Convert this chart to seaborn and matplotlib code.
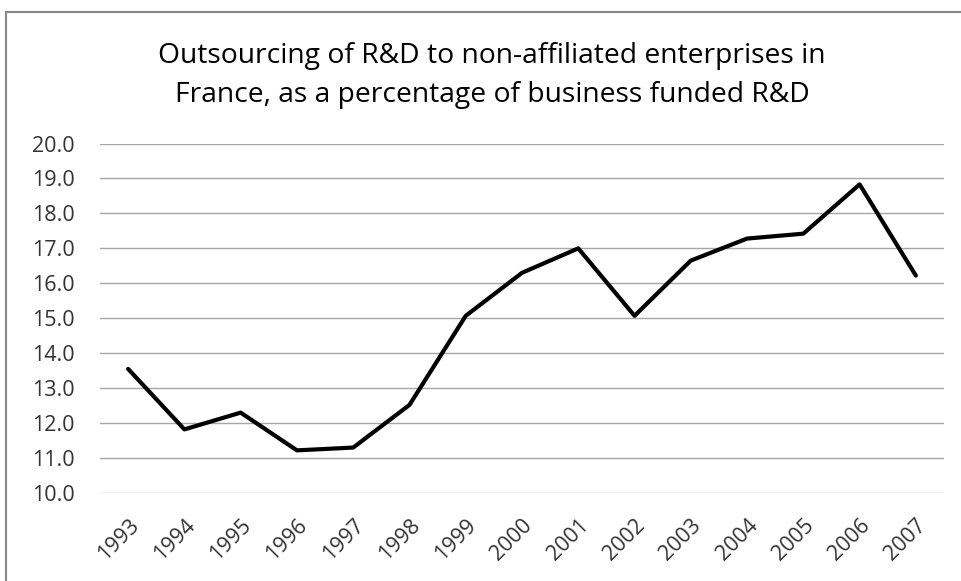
import matplotlib
matplotlib.use("Agg")
import matplotlib.pyplot as plt
import seaborn as sns
import pandas as pd
from matplotlib.patches import Rectangle

years = ["1993", "1994", "1995", "1996", "1997", "1998", "1999", "2000",
         "2001", "2002", "2003", "2004", "2005", "2006", "2007"]
share = [13.55, 11.82, 12.3, 11.22, 11.3, 12.52, 15.07, 16.3,
         17.0, 15.07, 16.65, 17.28, 17.42, 18.83, 16.22]
y_ticks = [10.0, 11.0, 12.0, 13.0, 14.0, 15.0, 16.0, 17.0, 18.0, 19.0, 20.0]
title_lines = ["Outsourcing of R&D to non-affiliated enterprises in",
               "France, as a percentage of business funded R&D"]

df = pd.DataFrame({"year": years, "share": share})

sns.set_theme(style="white")
plt.rcParams["font.family"] = ["Open Sans", "DejaVu Sans"]

fig = plt.figure(figsize=(9.61, 5.81), dpi=100)
ax = fig.add_axes([100 / 961, 1 - 493 / 581, 844 / 961, 349.5 / 581])

sns.lineplot(data=df, x="year", y="share", ax=ax, color="black",
             linewidth=3.0, sort=False)

ax.set_xlim(-0.5, len(years) - 0.5)
ax.set_ylim(10, 20)
ax.set_yticks(y_ticks)
ax.set_yticklabels([f"{v:.1f}" for v in y_ticks], fontsize=15.5, color="#333333")
ax.set_xticks(range(len(years)))
ax.set_xticklabels(years, rotation=45, ha="right", rotation_mode="anchor",
                   fontsize=15.5, color="#333333")
ax.tick_params(axis="y", pad=18, length=0)
ax.tick_params(axis="x", pad=16, length=0)
ax.set_xlabel("")
ax.set_ylabel("")
ax.yaxis.grid(True, color="#a6a6a6", linewidth=1.0)
ax.xaxis.grid(False)
for s in ax.spines.values():
    s.set_visible(False)

for line, base_px in zip(title_lines, [63, 102]):
    fig.text(492 / 961, 1 - base_px / 581, line, ha="center", va="baseline",
             fontsize=20.3, color="black")

# outer chart frame
fig.patches.append(Rectangle((5.5 / 961, -0.05), 1.2, 1 - 12 / 581 + 0.05,
                             transform=fig.transFigure, fill=False,
                             edgecolor="#888888", linewidth=1.5))

fig.savefig("out.png", dpi=100)
